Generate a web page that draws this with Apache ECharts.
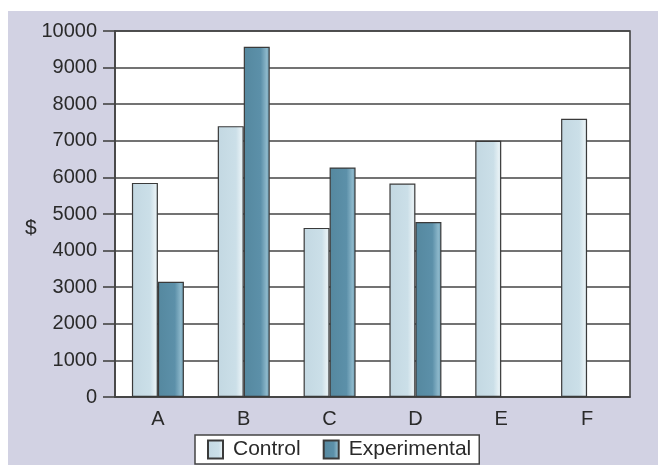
<!DOCTYPE html>
<html>
<head>
<meta charset="utf-8">
<script src="https://cdn.jsdelivr.net/npm/echarts@6/dist/echarts.min.js"></script>
<style>
  html, body { margin: 0; padding: 0; background: #ffffff; }
  #wrap { position: relative; width: 658px; height: 465px; overflow: hidden; background: #ffffff; }
  #panel { position: absolute; left: 8px; top: 11px; right: 0; bottom: 0; background: #d2d2e3; }
  #chart { position: absolute; left: 0; top: 0; width: 658px; height: 465px; }
</style>
</head>
<body>
<div id="wrap">
  <div id="panel"></div>
  <div id="chart"></div>
</div>
<script>
// Groups on the horizontal axis
const categories = ['A', 'B', 'C', 'D', 'E', 'F'];
// Cost per group, in dollars
const controlValues = [5850, 7400, 4620, 5830, 7000, 7600];
const experimentalValues = [3150, 9570, 6270, 4780, null, null];
// Vertical axis range
const yMin = 0;
const yMax = 10000;
const yStep = 1000;

const FONT = '"Liberation Sans", Arial, sans-serif';

const controlFill = new echarts.graphic.LinearGradient(0, 0, 1, 0, [
  { offset: 0, color: '#c3d8e2' },
  { offset: 0.7, color: '#cbdfe8' },
  { offset: 0.9, color: '#e6f0f4' },
  { offset: 1, color: '#d3e3ea' }
]);
const experimentalFill = new echarts.graphic.LinearGradient(0, 0, 1, 0, [
  { offset: 0, color: '#55889f' },
  { offset: 0.65, color: '#5c90a9' },
  { offset: 0.88, color: '#8cb7ca' },
  { offset: 1, color: '#6a9bb1' }
]);

const chart = echarts.init(document.getElementById('chart'), null, { renderer: 'canvas' });
chart.setOption({
  backgroundColor: 'transparent',
  animation: false,
  textStyle: { fontFamily: FONT },
  grid: {
    left: 115, top: 31, right: 28, bottom: 68,
    show: true,
    backgroundColor: '#ffffff',
    borderColor: '#444444',
    borderWidth: 1.6
  },
  legend: {
    left: 195, top: 435,
    padding: [4, 8, 4, 12],
    itemGap: 22,
    itemWidth: 15,
    itemHeight: 18,
    backgroundColor: '#ffffff',
    borderColor: '#444444',
    borderWidth: 1.5,
    borderRadius: 0,
    icon: 'rect',
    textStyle: { fontFamily: FONT, fontSize: 21, color: '#2a2a2a', padding: [0, 0, 0, 5] },
    data: ['Control', 'Experimental']
  },
  xAxis: {
    type: 'category',
    data: categories,
    axisLine: { show: true, lineStyle: { color: '#444444', width: 1.6 } },
    axisTick: { show: false },
    axisLabel: { fontFamily: FONT, fontSize: 20, color: '#2a2a2a', margin: 12 }
  },
  yAxis: {
    type: 'value',
    min: yMin, max: yMax, interval: yStep,
    axisLine: { show: true, lineStyle: { color: '#444444', width: 1.6 } },
    axisTick: { show: true, inside: false, length: 12, lineStyle: { color: '#444444', width: 1.6 } },
    axisLabel: {
      fontFamily: FONT, fontSize: 20, color: '#2a2a2a', margin: 18,
      formatter: function (v) { return String(v); }
    },
    splitLine: { show: true, lineStyle: { color: '#444444', width: 1.6 } }
  },
  graphic: [{
    type: 'text',
    left: 25, top: 218,
    style: { text: '$', fontFamily: FONT, fontSize: 21, fill: '#2a2a2a' }
  }],
  series: [
    {
      name: 'Control',
      type: 'bar',
      data: controlValues,
      barWidth: 26,
      barGap: '0%',
      itemStyle: { color: controlFill, borderColor: '#3a3a3a', borderWidth: 1.2 }
    },
    {
      name: 'Experimental',
      type: 'bar',
      data: experimentalValues,
      barWidth: 26,
      barGap: '0%',
      itemStyle: { color: experimentalFill, borderColor: '#3a3a3a', borderWidth: 1.2 }
    }
  ]
});
</script>
</body>
</html>
